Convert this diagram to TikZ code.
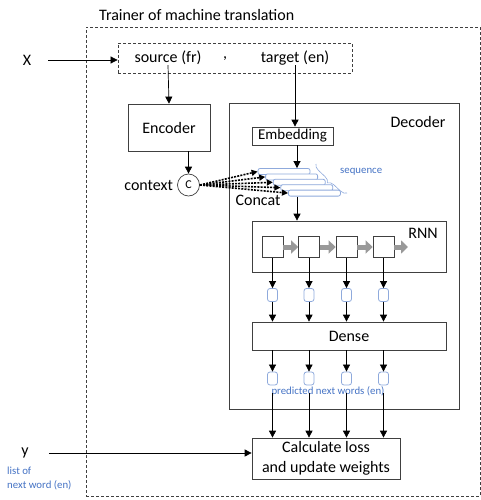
\documentclass[tikz,border=0pt]{standalone}
\usepackage{fontspec}
\setmainfont{Carlito}
\usetikzlibrary{arrows.meta,decorations.pathreplacing,calc}
\definecolor{lblue}{RGB}{68,114,196}
\definecolor{bblue}{RGB}{143,170,220}
\definecolor{dgray}{RGB}{64,64,64}
\begin{document}
\begin{tikzpicture}[x=1pt,y=-1pt,
  txt/.style={font=\fontsize{16}{19.5}\selectfont, inner sep=0},
  box/.style={draw=dgray, line width=0.7pt, fill=white, txt},
  arr/.style={-{Triangle[length=7pt,width=7pt]}, line width=0.7pt, draw=black},
  cell/.style={draw=dgray, line width=0.7pt, minimum size=21pt, inner sep=0},
  sq/.style={draw=bblue, rounded corners=2.5pt, minimum width=10pt, minimum height=13pt, line width=0.8pt, inner sep=0},
  bar/.style={draw=bblue, rounded corners=2pt, minimum width=52pt, minimum height=6pt, fill=white, inner sep=0, line width=0.8pt},
  small/.style={font=\fontsize{10.8}{14}\selectfont, text=lblue, inner sep=0},
  garr/.style={draw=black!40, line width=5pt, -{Triangle[length=7pt,width=13pt]}},
  dashbox/.style={dash pattern=on 3pt off 2pt, line width=0.8pt, draw=dgray}
]
\useasboundingbox (0,0) rectangle (481,500);
% outer
\node[txt, anchor=west] (title) at (99,15) {Trainer of machine translation};
\node[dashbox, minimum width=394pt, minimum height=469pt, inner sep=0] (trainer) at (283,261.5) {};
% input
\node[txt] (X) at (27,60) {X};
\node[dashbox, minimum width=234pt, minimum height=30pt, inner sep=0] (inp) at (235,58) {};
\node[txt] (src) at (168,58) {source (fr)};
\node[txt] (comma) at (225,59) {,};
\node[txt] (tgt) at (295,58) {target (en)};
\draw[arr] ([xshift=17pt]X.east |- 0,60) -- (inp.west |- 0,60);
% encoder
\node[box, minimum width=82pt, minimum height=47pt] (enc) at (169,127.5) {Encoder};
\draw[arr] (src.south) -- (enc.north);
% decoder
\node[draw=dgray, line width=0.7pt, minimum width=230pt, minimum height=306pt, inner sep=0] (dec) at (344,256) {};
\node[txt] (declab) at (418,122) {Decoder};
\node[box, minimum width=81pt, minimum height=18pt, font=\fontsize{15}{18}\selectfont] (emb) at (292.5,136) {Embedding};
\draw[arr] (tgt.south) -- (tgt.south |- emb.north);
% context
\node[draw=dgray, line width=0.7pt, circle, minimum size=22pt, inner sep=0, font=\fontsize{12}{14}\selectfont] (c) at (188.5,185) {C};
\node[txt, anchor=east] (ctxlab) at ([xshift=-4pt]c.west) {context};
\draw[arr] (enc.south -| c) -- (c.north);
% sequence bars
\foreach \i in {0,...,4}{
  \node[bar] (b\i) at ({284+7.6*\i},{171.5+5.4*\i}) {};
}
\foreach \i in {0,...,4}{
  \draw[line width=1.6pt, dash pattern=on 2pt off 1.2pt, -{Triangle[length=6pt,width=6pt]}] (c.east) -- (b\i.west);
}
\draw[decorate, decoration={brace, amplitude=6pt, mirror}, draw=bblue, line width=0.6pt] (316,164) -- (347,193);
\node[small, anchor=west] (seqlab) at (340,172) {sequence};
\node[txt] (concat) at (258,200) {Concat};
\draw[arr] (emb.south -| 297,0) -- (b0.north -| 297,0);
% RNN
\node[draw=dgray, line width=0.7pt, minimum width=194pt, minimum height=51pt, inner sep=0] (rnn) at (349,246.5) {};
\node[txt] (rnnlab) at (423,233) {RNN};
\draw[arr] (b4.south -| 297,0) -- (rnn.north -| 297,0);
\foreach \i/\x in {1/272.5,2/309,3/346.5,4/383.5}{
  \node[cell] (r\i) at (\x,247) {};
  \node[sq] (s\i) at (\x,295) {};
  \node[sq] (o\i) at (\x,378.5) {};
}
\coordinate (rend) at (408,247);
\draw[garr] (r1.east) -- (r2.west);
\draw[garr] (r2.east) -- (r3.west);
\draw[garr] (r3.east) -- (r4.west);
\draw[garr] (r4.east) -- (rend);
% Dense
\node[box, minimum width=194pt, minimum height=28pt] (dense) at (349,336) {Dense};
\node[small] (predlab) at (328,391) {predicted next words (en)};
% loss
\node[box, minimum width=148pt, minimum height=41pt, align=center] (loss) at (326,458.5) {Calculate loss\\and update weights};
\foreach \i in {1,...,4}{
  \draw[arr] (r\i.south) -- (s\i.north);
  \draw[arr] (s\i.south) -- (s\i.south |- dense.north);
  \draw[arr] (s\i.south |- dense.south) -- (o\i.north);
  \draw[arr] ([yshift=3pt]o\i.south |- predlab.south) -- (o\i.south |- loss.north);
}
% y
\node[txt] (Y) at (25,453) {y};
\draw[arr] ([xshift=20pt]Y.east |- 0,453) -- (loss.west |- 0,453);
\node[small, anchor=north west, align=left] (ylab) at (7,467) {list of\\next word (en)};
\end{tikzpicture}
\end{document}
